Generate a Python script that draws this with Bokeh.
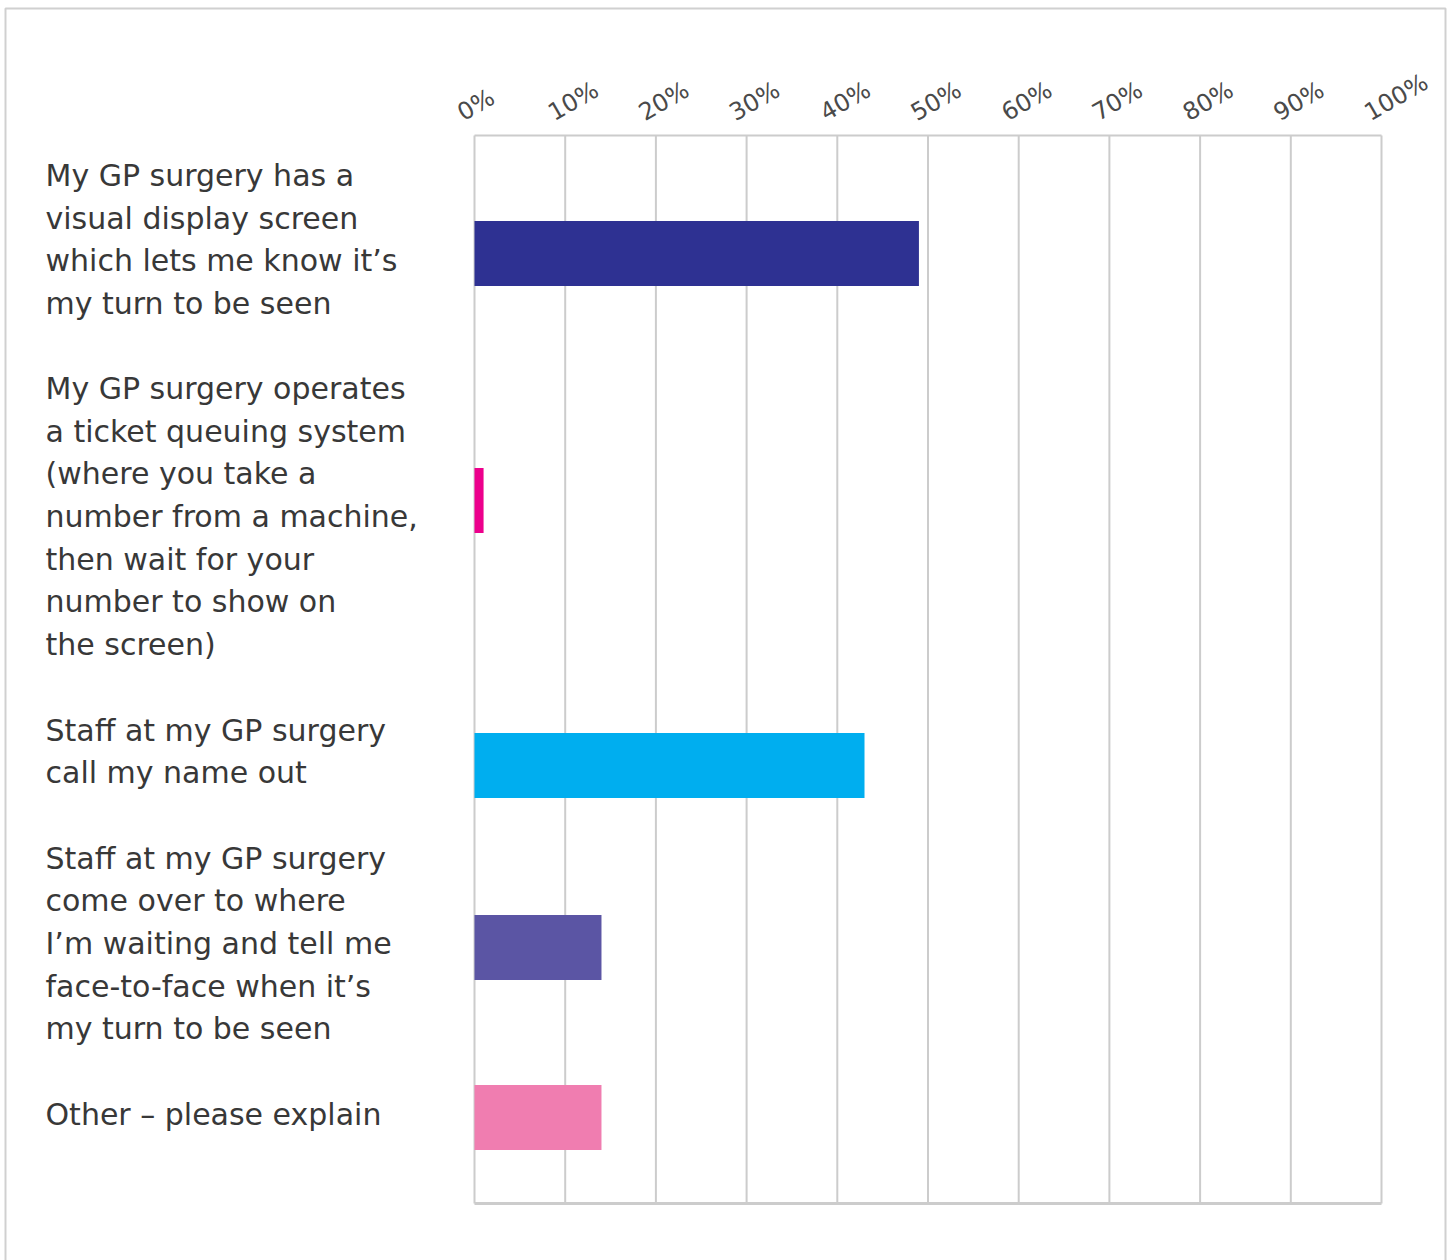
import math
from bokeh.plotting import figure
from bokeh.models import Range1d, ColumnDataSource
from bokeh.core.properties import value
from bokeh.embed import file_html
from bokeh.resources import INLINE

# ---- data ----
categories = [
    "My GP surgery has a\nvisual display screen\nwhich lets me know it\u2019s\nmy turn to be seen",
    "My GP surgery operates\na ticket queuing system\n(where you take a\nnumber from a machine,\nthen wait for your\nnumber to show on\nthe screen)",
    "Staff at my GP surgery\ncall my name out",
    "Staff at my GP surgery\ncome over to where\nI\u2019m waiting and tell me\nface-to-face when it\u2019s\nmy turn to be seen",
    "Other \u2013 please explain",
]
values = [49, 1, 43, 14, 14]
tick_values = [0, 10, 20, 30, 40, 50, 60, 70, 80, 90, 100]
tick_labels = ["0%", "10%", "20%", "30%", "40%", "50%", "60%", "70%", "80%", "90%", "100%"]

# ---- layout / style ----
colors = ["#2e3192", "#ec008c", "#00aeef", "#5b55a4", "#f07db0"]
W, H = 1454, 1260
X0, X1 = 474, 1381          # pixel columns of 0% and 100%
Y0, Y1 = 135, 1203          # pixel rows of the plot box top / bottom
PX = (X1 - X0) / 100.0      # px per percent
FRAME_H = Y1 - Y0
row_pos = [118, 365, 630, 812, 982]      # bar centres (px below box top)
label_pos = [104, 381, 616, 808, 979]    # label block centres
BAR_H = 65
GRID = "#cccccc"
FONT = "DejaVu Sans"

p = figure(width=W, height=H, output_backend="svg", toolbar_location=None,
           title=None, x_axis_location=None, y_axis_location=None,
           x_range=Range1d(-X0 / PX, (W - X0) / PX),
           y_range=Range1d(H - Y0, -Y0),
           min_border=0, outline_line_color=None,
           background_fill_color="white", border_fill_color="white")
p.grid.visible = False

# outer frame of the figure
p.quad(left=(5 - X0) / PX, right=(1445 - X0) / PX, top=8 - Y0, bottom=H - Y0 + 20,
       fill_color=None, line_color="#d0d0d0", line_width=2)

# vertical grid lines
p.segment(x0=tick_values, x1=tick_values, y0=[0] * len(tick_values),
          y1=[FRAME_H] * len(tick_values), line_color=GRID, line_width=2)
# top and bottom box lines
p.segment(x0=[0, 0], x1=[100, 100], y0=[0, FRAME_H], y1=[0, FRAME_H],
          line_color=GRID, line_width=[2, 3])

# bars
src = ColumnDataSource(dict(y=row_pos, v=values, c=colors))
p.hbar(y="y", left=0, right="v", height=BAR_H, fill_color="c", line_color=None, source=src)

# category labels
p.text(x=[(45 - X0) / PX] * len(categories), y=label_pos, text=categories,
       text_font=value(FONT), text_font_size="30px", text_color="#383838",
       text_align="left", text_baseline="middle", text_line_height=1.22)

# tick labels (rotated)
p.text(x=tick_values, y=[-21] * len(tick_values), text=tick_labels,
       x_offset=-15, angle=math.pi / 6,
       text_font=value(FONT), text_font_size="24px", text_color="#4a4a4a",
       text_align="left", text_baseline="alphabetic")

open("out.html", "w").write(file_html(p, INLINE))
